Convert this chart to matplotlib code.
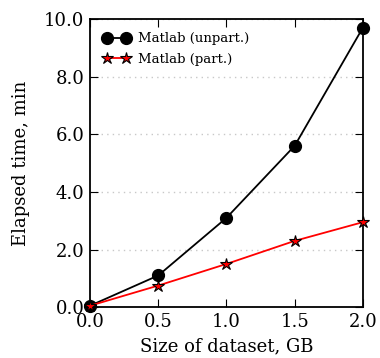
import numpy as np
import matplotlib.pyplot as plt

plt.rcParams['font.family'] = 'DejaVu Serif'

size_gb = [0.0, 0.5, 1.0, 1.5, 2.0]
t_unpart = [0.05, 1.1, 3.1, 5.6, 9.7]
t_part = [0.05, 0.75, 1.5, 2.3, 2.95]

fig = plt.figure(figsize=(3.8, 3.58), dpi=100)
ax = fig.add_axes([0.237, 0.142, 0.718, 0.805])

ax.plot(size_gb, t_unpart, '-o', c='black', ms=8.5, lw=1.3,
        label='Matlab (unpart.)', clip_on=False, zorder=3)
ax.plot(size_gb, t_part, '-*', c='red', mfc='red', mec='black', ms=9, lw=1.3,
        mew=0.8, label='Matlab (part.)', clip_on=False, zorder=3)

ax.set_xlim(0, 2)
ax.set_ylim(0, 10)
ax.set_xticks([0, 0.5, 1.0, 1.5, 2.0])
ax.set_yticks([0, 2, 4, 6, 8, 10])
ax.set_xticklabels(['0.0', '0.5', '1.0', '1.5', '2.0'])
ax.set_yticklabels(['0.0', '2.0', '4.0', '6.0', '8.0', '10.0'])
ax.tick_params(direction='in', top=True, right=True, labelsize=13, length=6, pad=4)
ax.yaxis.grid(True, ls=(0, (1, 3)), c='#c8c8c8', lw=1)
for s in ax.spines.values():
    s.set_linewidth(1.3)

ax.set_xlabel('Size of dataset, GB', fontsize=13, labelpad=5)
ax.set_ylabel('Elapsed time, min', fontsize=13, labelpad=10)

ax.legend(loc='upper left', frameon=False, fontsize=9.5, numpoints=2,
          handlelength=2.0, borderaxespad=0.6, labelspacing=0.6, handletextpad=0.6)

plt.savefig('out.png', dpi=100)
